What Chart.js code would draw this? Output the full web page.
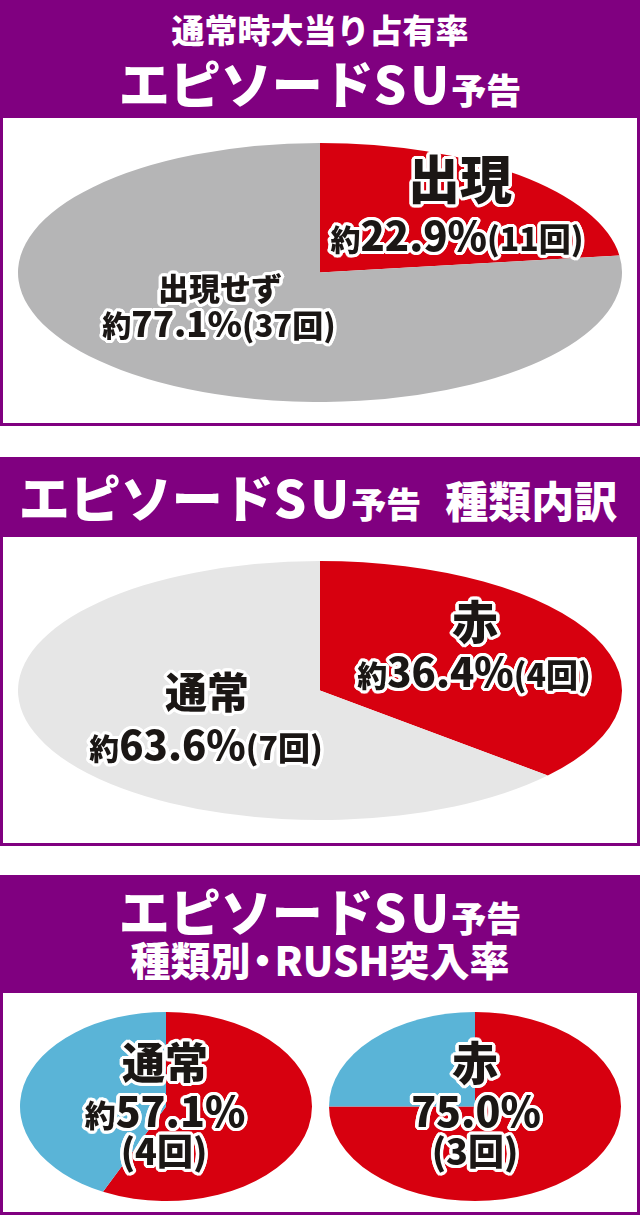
<!DOCTYPE html>
<html lang="ja">
<head>
<meta charset="utf-8">
<script src="https://cdn.jsdelivr.net/npm/chart.js@4/dist/chart.umd.min.js"></script>
<style>
body { margin:0; width:640px; height:1217px; background:#fff; position:relative; overflow:hidden;
       font-family:"Noto Sans CJK JP","Noto Sans",sans-serif; }
.head { position:absolute; left:0; width:640px; background:#800080; color:#fff; font-weight:900; }
.hl { position:absolute; left:0; width:640px; text-align:center; white-space:nowrap; line-height:1; }
.s { letter-spacing:4px; }
.box { position:absolute; left:0; width:640px; box-sizing:border-box; border:3px solid #800080; border-top:none; background:#fff; }
.pie { position:absolute; }
.lbl { position:absolute; width:340px; margin-left:-170px; text-align:center; font-weight:900; color:#1b1715;
       white-space:nowrap; line-height:1; }
</style>
</head>
<body>

<div class="head" style="top:0;height:118px">
  <div class="hl" style="top:13px;font-size:33px">通常時大当り占有率</div>
  <div class="hl" style="top:57px;font-size:51px">エピソード<span class="s">S</span>U<span style="font-size:35px;margin-left:2px">予告</span></div>
</div>
<div class="box" style="top:118px;height:308px"></div>
<div class="pie" style="left:18px;top:143px;width:604px;height:259px"><canvas id="pie1"></canvas></div>

<div class="head" style="top:457px;height:80px">
  <div class="hl" style="top:14px;font-size:51px;left:-2px">エピソード<span class="s">S</span>U<span style="font-size:35px;margin-left:2px">予告</span><span style="font-size:43px;margin-left:24px">種類内訳</span></div>
</div>
<div class="box" style="top:537px;height:309px"></div>
<div class="pie" style="left:18px;top:561px;width:604px;height:259px"><canvas id="pie2"></canvas></div>

<div class="head" style="top:875px;height:118px">
  <div class="hl" style="top:10px;font-size:51px">エピソード<span class="s">S</span>U<span style="font-size:35px;margin-left:2px">予告</span></div>
  <div class="hl" style="top:64px;font-size:40px">種類別<span style="margin:0 -8px">・</span>RUSH突入率</div>
</div>
<div class="box" style="top:993px;height:222px"></div>
<div class="pie" style="left:20px;top:1012px;width:292px;height:189px"><canvas id="pie3"></canvas></div>
<div class="pie" style="left:329px;top:1012px;width:292px;height:189px"><canvas id="pie4"></canvas></div>

<div id="labels"></div>

<script>
// 通常時大当り占有率
const shareLabels = ['出現', '出現せず'];
const shareValues = [22.9, 77.1];
const shareCounts = [11, 37];

// 種類内訳
const typeLabels = ['赤', '通常'];
const typeValues = [36.4, 63.6];
const typeCounts = [4, 7];

// 種類別・RUSH突入率 (突入, 非突入)
const rushLabels = ['通常', '赤'];
const rushNormal = [57.1, 42.9];
const rushRed = [75.0, 25.0];
const rushCounts = [4, 3];

const RED = '#d7000f';

// squeeze the round pie into an ellipse that fills the canvas
const stretch = {
  id: 'stretch',
  beforeDatasetsDraw(chart) {
    const ctx = chart.ctx, a = chart.chartArea;
    const cx = (a.left + a.right) / 2;
    ctx.save();
    ctx.translate(cx, 0);
    ctx.scale(a.width / a.height, 1);
    ctx.translate(-cx, 0);
  },
  afterDatasetsDraw(chart) {
    chart.ctx.restore();
  }
};

function makePie(id, labels, values, colors) {
  return new Chart(document.getElementById(id), {
    type: 'pie',
    data: {
      labels: labels,
      datasets: [{ data: values, backgroundColor: colors, borderWidth: 0 }]
    },
    options: {
      responsive: true,
      maintainAspectRatio: false,
      animation: false,
      events: [],
      layout: { padding: 0 },
      plugins: { legend: { display: false }, tooltip: { enabled: false } }
    },
    plugins: [stretch]
  });
}

makePie('pie1', shareLabels, shareValues, [RED, '#b5b5b6']);
makePie('pie2', typeLabels, typeValues, [RED, '#e6e6e6']);
makePie('pie3', ['突入', '非突入'], rushNormal, [RED, '#5ab4d7']);
makePie('pie4', ['突入', '非突入'], rushRed, [RED, '#5ab4d7']);

// white outline for the labels
const ring = [];
[3.4, 2].forEach(function (r) {
  for (let i = 0; i < 16; i++) {
    const t = i / 16 * Math.PI * 2;
    ring.push((r * Math.cos(t)).toFixed(1) + 'px ' + (r * Math.sin(t)).toFixed(1) + 'px 0 #fff');
  }
});

function pct(v, count, big, small, withParen) {
  let s = '<span style="font-size:' + small + 'px">約</span><span style="font-size:' + big + 'px">' + v.toFixed(1) + '%</span>';
  if (withParen) s += '<span style="font-size:' + (small + 2) + 'px">(' + count + '回)</span>';
  return s;
}

const box = document.getElementById('labels');
function label(x, y, size, html) {
  const d = document.createElement('div');
  d.className = 'lbl';
  d.style.left = x + 'px';
  d.style.top = (y - size / 2) + 'px';
  d.style.fontSize = size + 'px';
  d.style.textShadow = ring.join(',');
  d.innerHTML = html;
  box.appendChild(d);
}

label(460, 177, 52, shareLabels[0]);
label(457, 233, 38, pct(shareValues[0], shareCounts[0], 40, 30, true));
label(220, 286, 31, shareLabels[1]);
label(219, 321, 34, pct(shareValues[1], shareCounts[1], 35, 29, true));

label(475, 619, 46, typeLabels[0]);
label(474, 669, 38, pct(typeValues[0], typeCounts[0], 40, 30, true));
label(207, 690, 42, typeLabels[1]);
label(206, 742, 38, pct(typeValues[1], typeCounts[1], 40, 30, true));

label(165, 1060, 43, rushLabels[0]);
label(165, 1109, 40, pct(rushNormal[0], rushCounts[0], 41, 31, false));
label(164, 1149, 36, '(' + rushCounts[0] + '回)');
label(475, 1060, 46, rushLabels[1]);
label(476, 1109, 41, rushRed[0].toFixed(1) + '%');
label(475, 1149, 36, '(' + rushCounts[1] + '回)');
</script>
</body>
</html>
